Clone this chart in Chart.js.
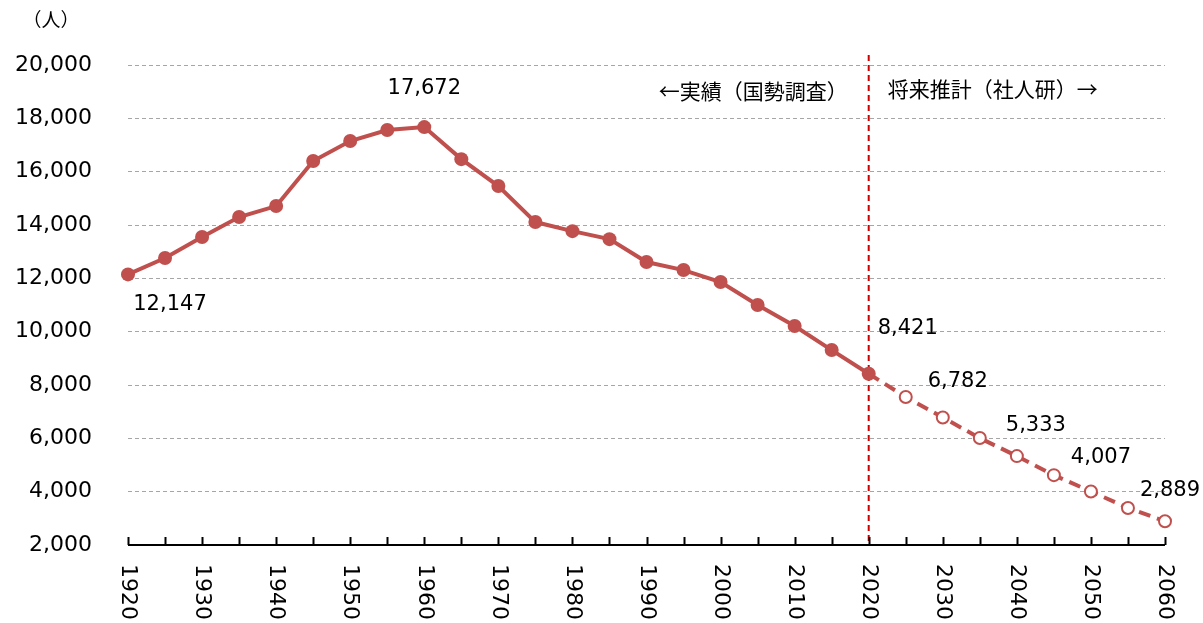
<!DOCTYPE html>
<html>
<head>
<meta charset="utf-8">
<script src="https://cdn.jsdelivr.net/npm/chart.js@4"></script>
<style>
    body { margin: 0; background: #fff; }
    #wrap { width: 1203px; height: 623px; }
</style>
</head>
<body>
<div id="wrap"><canvas id="PopGraph" width="1203" height="623"></canvas></div>
<script>
// years on the x axis (every 5 years)
const years = [1920, 1925, 1930, 1935, 1940, 1945, 1950, 1955, 1960, 1965, 1970, 1975, 1980, 1985,
    1990, 1995, 2000, 2005, 2010, 2015, 2020, 2025, 2030, 2035, 2040, 2045, 2050, 2055, 2060];
const yearLabels = ['1920', '1930', '1940', '1950', '1960', '1970', '1980', '1990', '2000',
    '2010', '2020', '2030', '2040', '2050', '2060'];
// census results 1920-2020
const actualValues = [12147, 12760, 13550, 14300, 14710, 16400, 17150, 17560, 17672, 16470,
    15460, 14110, 13770, 13470, 12610, 12310, 11860, 11000, 10210, 9310, 8421];
// projection 2020-2060
const projectionValues = [8421, 7550, 6782, 6010, 5333, 4620, 4007, 3390, 2889];
const yTicks = [2000, 4000, 6000, 8000, 10000, 12000, 14000, 16000, 18000, 20000];
// points that carry a value label
const labelledYears = [1920, 1960, 2020, 2030, 2040, 2050, 2060];
const unitText = '（人）';
const leftNote = '←実績（国勢調査）';
const rightNote = '将来推計（社人研）→';
const splitYear = 2020;

class PopGraph {
    static red = '#c0504d';
    static numFont = '"DejaVu Sans", Verdana, sans-serif';
    static jpFont = '"Noto Sans CJK JP", sans-serif';
    // label offsets from the point, in px
    static labelOffsets = {
        1920: { dx: 42, dy: 30 },
        1960: { dx: 0, dy: -39 },
        2020: { dx: 39, dy: -45 },
        2030: { dx: 15, dy: -36 },
        2040: { dx: 19, dy: -31 },
        2050: { dx: 10, dy: -34 },
        2060: { dx: 5, dy: -31 },
    };

    get data() {
        let n = years.length;
        let actual = years.map((y, i) => i < actualValues.length ? actualValues[i] : null);
        let start = n - projectionValues.length;
        let projection = years.map((y, i) => i >= start ? projectionValues[i - start] : null);
        return {
            labels: years.map(String),
            datasets: [{
                label: '実績',
                data: actual,
                order: 0,
                borderColor: PopGraph.red,
                backgroundColor: PopGraph.red,
                borderWidth: 4,
                pointRadius: 7,
                pointBackgroundColor: PopGraph.red,
                pointBorderWidth: 0,
            },
            {
                label: '推計',
                data: projection,
                order: 1,
                borderColor: PopGraph.red,
                borderWidth: 4,
                borderDash: [12, 7],
                pointRadius: (ctx) => years[ctx.dataIndex] == splitYear ? 0 : 6,
                pointBackgroundColor: '#ffffff',
                pointBorderColor: PopGraph.red,
                pointBorderWidth: 2,
            }]
        }
    }

    get scales() {
        return {
            x: {
                type: 'category',
                offset: false,
                grid: { display: false },
                border: { display: false },
                ticks: { display: false },
                afterFit: (scale) => { scale.height = 78; },
            },
            y: {
                min: 2000,
                max: 20000,
                afterBuildTicks: (scale) => { scale.ticks = yTicks.map(v => ({ value: v })); },
                grid: { color: '#a6a6a6', lineWidth: 1, drawTicks: false },
                border: { display: false, dash: [4, 3] },
                ticks: {
                    padding: 36,
                    color: '#000',
                    font: { family: PopGraph.numFont, size: 22 },
                    callback: (v) => v.toLocaleString('en-US'),
                },
                afterFit: (scale) => { scale.width = 128; },
            }
        }
    }

    get decorations() {
        return {
            id: 'decorations',
            beforeDatasetsDraw(chart) {
                let ctx = chart.ctx;
                let x = chart.scales.x.getPixelForValue(years.indexOf(splitYear));
                ctx.save();
                ctx.strokeStyle = '#d00000';
                ctx.lineWidth = 2;
                ctx.setLineDash([6, 4]);
                ctx.beginPath();
                ctx.moveTo(x, chart.chartArea.top - 10);
                ctx.lineTo(x, chart.chartArea.bottom);
                ctx.stroke();
                ctx.restore();
            },
            afterDraw(chart) {
                let ctx = chart.ctx;
                let xs = chart.scales.x;
                let ys = chart.scales.y;
                let area = chart.chartArea;
                ctx.save();
                // axis line and inward ticks
                ctx.strokeStyle = '#000';
                ctx.lineWidth = 2;
                ctx.beginPath();
                ctx.moveTo(area.left, area.bottom);
                ctx.lineTo(area.right, area.bottom);
                years.forEach((y, i) => {
                    let px = Math.round(xs.getPixelForValue(i)) + 0.5;
                    ctx.moveTo(px, area.bottom);
                    ctx.lineTo(px, area.bottom - 8);
                });
                ctx.stroke();

                // rotated year labels (read top to bottom)
                ctx.fillStyle = '#000';
                ctx.font = '22px ' + PopGraph.numFont;
                ctx.textAlign = 'left';
                ctx.textBaseline = 'middle';
                yearLabels.forEach((lab) => {
                    let px = xs.getPixelForValue(years.indexOf(Number(lab)));
                    ctx.save();
                    ctx.translate(px, area.bottom + 19);
                    ctx.rotate(Math.PI / 2);
                    ctx.fillText(lab, 0, 0);
                    ctx.restore();
                });

                // value labels
                ctx.font = '21px ' + PopGraph.numFont;
                ctx.textAlign = 'center';
                labelledYears.forEach((yr) => {
                    let i = years.indexOf(yr);
                    let v = i < actualValues.length ? actualValues[i] : projectionValues[i - (years.length - projectionValues.length)];
                    let off = PopGraph.labelOffsets[yr];
                    ctx.fillText(v.toLocaleString('en-US'), xs.getPixelForValue(i) + off.dx, ys.getPixelForValue(v) + off.dy);
                });

                // unit and notes
                ctx.font = '19px ' + PopGraph.jpFont;
                ctx.fillText(unitText, 51, 20);
                let sx = xs.getPixelForValue(years.indexOf(splitYear));
                ctx.font = '21px ' + PopGraph.jpFont;
                ctx.textAlign = 'right';
                ctx.fillText(leftNote, sx - 21, 91);
                ctx.textAlign = 'left';
                ctx.fillText(rightNote, sx + 19, 89);
                ctx.restore();
            }
        }
    }

    get config() {
        return {
            type: 'line',
            data: this.data,
            options: {
                responsive: false,
                animation: false,
                layout: { padding: { top: 65, right: 38, left: 0, bottom: 0 } },
                scales: this.scales,
                plugins: {
                    legend: { display: false },
                    tooltip: { enabled: false },
                },
            },
            plugins: [this.decorations],
        };
    }

    show() {
        var myChart = new Chart(document.getElementById('PopGraph'), this.config);
    }
}

new PopGraph().show();
</script>
</body>
</html>
